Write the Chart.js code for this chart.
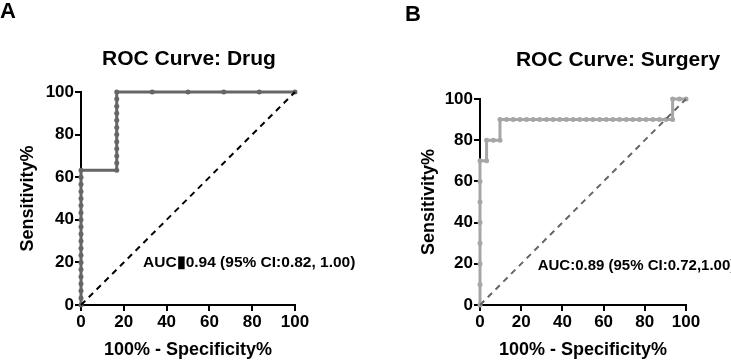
<!DOCTYPE html>
<html lang="en">
<head>
    <meta charset="UTF-8">
    <title>ROC Curves</title>
    <style>
        html, body {
            margin: 0;
            padding: 0;
            background: #fff;
        }
        .panel {
            position: absolute;
            top: 0;
            height: 361px;
        }
        #panelA { left: 0; width: 365px; }
        #panelB { left: 365px; width: 366px; }
    </style>
    <script src="https://cdn.jsdelivr.net/npm/chart.js"></script>
</head>
<body>
    <div class="panel" id="panelA"><canvas id="chartA" width="365" height="361"></canvas></div>
    <div class="panel" id="panelB"><canvas id="chartB" width="366" height="361"></canvas></div>

    <script>
        // ROC points, 100% - specificity (x) and sensitivity (y)
        const drugFpr = [0, 0, 0, 0, 0, 0, 0, 0, 0, 0, 0, 0, 0, 0, 0, 0, 0, 0, 0, 0,
            16.7, 16.7, 16.7, 16.7, 16.7, 16.7, 16.7, 16.7, 16.7, 16.7, 16.7, 16.7,
            33.3, 50, 66.7, 83.3, 100];
        const drugSens = [0, 3.3, 6.7, 10, 13.3, 16.7, 20, 23.3, 26.7, 30, 33.3, 36.7, 40, 43.3, 46.7, 50, 53.3, 56.7, 60, 63.3,
            63.3, 66.7, 70, 73.3, 76.7, 80, 83.3, 86.7, 90, 93.3, 96.7, 100,
            100, 100, 100, 100, 100];

        const surgeryFpr = [0, 0, 0, 0, 0, 0, 0, 0, 3.2, 3.2, 6.5, 9.7,
            9.7, 12.9, 16.1, 19.4, 22.6, 25.8, 29.0, 32.3, 35.5, 38.7, 41.9, 45.2, 48.4, 51.6,
            54.8, 58.1, 61.3, 64.5, 67.7, 71.0, 74.2, 77.4, 80.6, 83.9, 87.1, 90.3, 93.5,
            93.5, 96.8, 100];
        const surgerySens = [0, 10, 20, 30, 40, 50, 60, 70, 70, 80, 80, 80,
            90, 90, 90, 90, 90, 90, 90, 90, 90, 90, 90, 90, 90, 90,
            90, 90, 90, 90, 90, 90, 90, 90, 90, 90, 90, 90, 90,
            100, 100, 100];

        const chanceX = [0, 100];
        const chanceY = [0, 100];
        const xTicks = [0, 20, 40, 60, 80, 100];

        const drugAuc = 'AUC\u25AE0.94 (95% CI:0.82, 1.00)';
        const surgeryAuc = 'AUC:0.89 (95% CI:0.72,1.00)';

        function toPoints(xs, ys) {
            return xs.map((x, i) => ({ x: x, y: ys[i] }));
        }

        const textPlugin = {
            id: 'panelText',
            afterDraw(chart, args, opts) {
                const ctx = chart.ctx;
                const xs = chart.scales.x, ys = chart.scales.y;
                ctx.save();
                ctx.fillStyle = '#000';
                ctx.textBaseline = 'middle';
                ctx.font = 'bold 22px "Liberation Sans", Arial, sans-serif';
                ctx.textAlign = 'left';
                ctx.fillText(opts.letter, opts.letterX, opts.letterY);
                ctx.font = 'bold 21px "Liberation Sans", Arial, sans-serif';
                ctx.textAlign = 'center';
                ctx.fillText(opts.title, opts.titleX, opts.titleY);
                ctx.font = 'bold ' + opts.aucSize + 'px "Liberation Sans", Arial, sans-serif';
                ctx.textAlign = 'left';
                ctx.fillText(opts.auc, xs.getPixelForValue(opts.aucAt[0]), ys.getPixelForValue(opts.aucAt[1]));
                ctx.restore();
            }
        };

        function axis(title, width, isX, titlePad) {
            return {
                type: 'linear',
                min: 0,
                max: 100,
                afterBuildTicks: s => { s.ticks = xTicks.map(v => ({ value: v })); },
                afterFit: s => { if (isX) s.height = width; else s.width = width; },
                border: { display: true, color: '#000', width: 2 },
                grid: { drawOnChartArea: false, drawTicks: true, tickLength: 6, color: '#000', lineWidth: 2 },
                ticks: {
                    color: '#000',
                    padding: 1,
                    maxRotation: 0,
                    autoSkip: false,
                    font: { family: '"Liberation Sans", Arial, sans-serif', size: 17, weight: 'bold' }
                },
                title: {
                    display: true,
                    text: title,
                    color: '#000',
                    padding: titlePad,
                    font: { family: '"Liberation Sans", Arial, sans-serif', size: 18, weight: 'bold' }
                }
            };
        }

        function plotRoc(id, fpr, sens, curveColor, diagColor, area, text) {
            const ctx = document.getElementById(id).getContext('2d');
            new Chart(ctx, {
                type: 'scatter',
                data: {
                    datasets: [{
                        data: toPoints(chanceX, chanceY),
                        showLine: true,
                        borderColor: diagColor,
                        borderWidth: 2,
                        borderDash: [6, 5],
                        pointRadius: 0,
                        clip: false
                    }, {
                        data: toPoints(fpr, sens),
                        showLine: true,
                        borderColor: curveColor,
                        backgroundColor: curveColor,
                        borderWidth: 3,
                        pointRadius: 2.5,
                        pointBorderWidth: 0,
                        clip: false
                    }]
                },
                options: {
                    responsive: false,
                    animation: false,
                    layout: { padding: area.padding },
                    plugins: {
                        legend: { display: false },
                        tooltip: { enabled: false },
                        panelText: text
                    },
                    scales: {
                        x: axis('100% - Specificity%', area.xh, true, { top: 0, bottom: 0 }),
                        y: axis('Sensitivity%', area.yw, false, { top: area.ytPad, bottom: 0 })
                    }
                },
                plugins: [textPlugin]
            });
        }

        plotRoc('chartA', drugFpr, drugSens, '#666666', '#000000',
            { padding: { left: 0, top: 92, right: 70, bottom: 0 }, yw: 81, xh: 56, ytPad: 17 },
            { letter: 'A', letterX: 0, letterY: 12, title: 'ROC Curve: Drug', titleX: 189, titleY: 59,
              auc: drugAuc, aucAt: [29, 19.7], aucSize: 15.5 });

        plotRoc('chartB', surgeryFpr, surgerySens, '#a6a6a6', '#666666',
            { padding: { left: 0, top: 99, right: 45, bottom: 0 }, yw: 115, xh: 56, ytPad: 53 },
            { letter: 'B', letterX: 40, letterY: 15, title: 'ROC Curve: Surgery', titleX: 253, titleY: 60,
              auc: surgeryAuc, aucAt: [28, 19], aucSize: 15 });
    </script>
</body>
</html>
